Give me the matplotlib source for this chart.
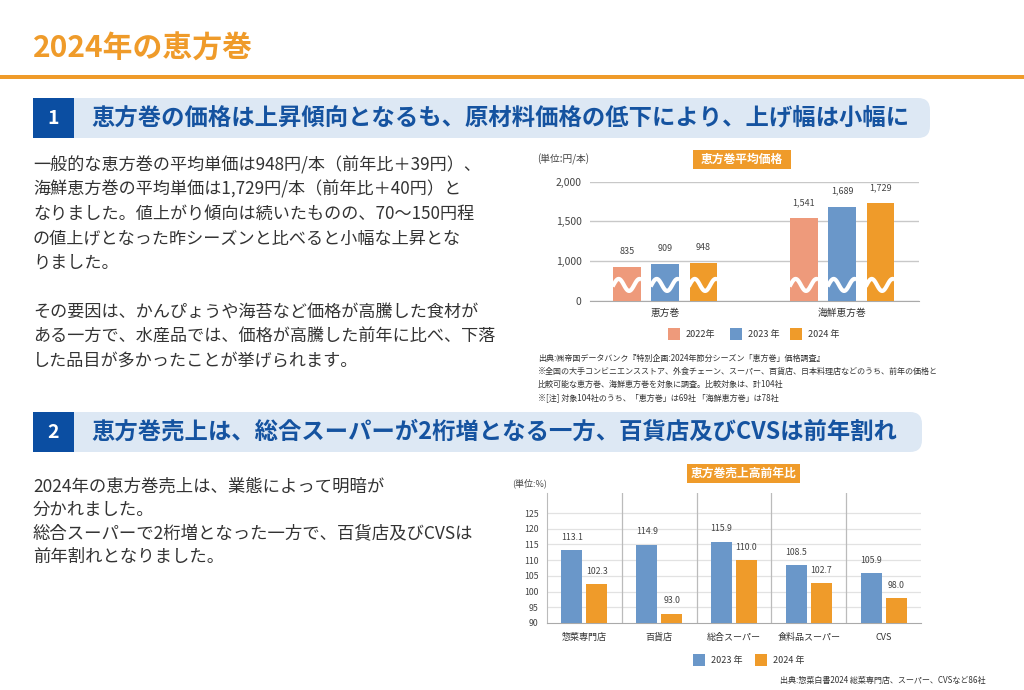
import matplotlib
matplotlib.use("Agg")
import matplotlib.pyplot as plt
import numpy as np
from matplotlib.patches import Rectangle, FancyBboxPatch

plt.rcParams["font.family"] = ["Noto Sans CJK JP", "DejaVu Sans"]

# ---- data ----
price_groups = ["恵方巻", "海鮮恵方巻"]
price_years = ["2022年", "2023 年", "2024 年"]
price_2022 = [835, 1541]
price_2023 = [909, 1689]
price_2024 = [948, 1729]
price_ticks = [0, 1000, 1500, 2000]

sales_groups = ["惣菜専門店", "百貨店", "総合スーパー", "食料品スーパー", "CVS"]
sales_years = ["2023 年", "2024 年"]
sales_2023 = [113.1, 114.9, 115.9, 108.5, 105.9]
sales_2024 = [102.3, 93.0, 110.0, 102.7, 98.0]
sales_ticks = [90, 95, 100, 105, 110, 115, 120, 125]

ORANGE = "#EF9B2A"
BLUE = "#6A97C9"
SALMON = "#EE9A7B"
NAVY = "#0B4EA2"
HEAD_TXT = "#1553A0"
BAND = "#DDE8F4"
TXT = "#333333"

W, H = 1024, 690
fig = plt.figure(figsize=(W / 100, H / 100), dpi=100)

# overlay in pixel coordinates
ov = fig.add_axes([0, 0, 1, 1])
ov.set_xlim(0, W)
ov.set_ylim(H, 0)
ov.axis("off")

ov.text(33, 49, "2024年の恵方巻", fontsize=21.5, fontweight="bold",
        color=ORANGE, va="center", ha="left")
ov.add_patch(Rectangle((0, 75), W, 4, color=ORANGE, lw=0))


def section(y0, num, title, right):
    ov.add_patch(FancyBboxPatch((60, y0), right - 60, 40,
                                boxstyle="round,pad=0,rounding_size=12",
                                fc=BAND, ec="none"))
    ov.add_patch(Rectangle((33, y0), 41, 40, fc=NAVY, ec="none"))
    ov.text(53.5, y0 + 20, num, color="white", fontsize=14,
            fontweight="bold", ha="center", va="center")
    ov.text(91, y0 + 20, title, color=HEAD_TXT, fontsize=16.8,
            fontweight="bold", ha="left", va="center")


section(98, "1", "恵方巻の価格は上昇傾向となるも、原材料価格の低下により、上げ幅は小幅に", 930)
section(412, "2", "恵方巻売上は、総合スーパーが2桁増となる一方、百貨店及びCVSは前年割れ", 922)

body1 = [
    "一般的な恵方巻の平均単価は948円/本（前年比＋39円）、",
    "海鮮恵方巻の平均単価は1,729円/本（前年比＋40円）と",
    "なりました。値上がり傾向は続いたものの、70〜150円程",
    "の値上げとなった昨シーズンと比べると小幅な上昇とな",
    "りました。",
    "",
    "その要因は、かんぴょうや海苔など価格が高騰した食材が",
    "ある一方で、水産品では、価格が高騰した前年に比べ、下落",
    "した品目が多かったことが挙げられます。",
]
for i, line in enumerate(body1):
    ov.text(33, 165 + i * 24.5, line, fontsize=12.3, color=TXT,
            ha="left", va="center")

body2 = [
    "2024年の恵方巻売上は、業態によって明暗が",
    "分かれました。",
    "総合スーパーで2桁増となった一方で、百貨店及びCVSは",
    "前年割れとなりました。",
]
for i, line in enumerate(body2):
    ov.text(33, 487 + i * 23.3, line, fontsize=12.5, color=TXT,
            ha="left", va="center")

# ---- chart 1 : average price ----
ov.text(537, 159, "(単位:円/本)", fontsize=7, color="#444444", va="center")
ov.add_patch(Rectangle((693, 150), 98, 19, fc=ORANGE, ec="none"))
ov.text(742, 159.5, "恵方巻平均価格", fontsize=8.5, color="white",
        fontweight="bold", ha="center", va="center")

notes1 = [
    "出典:㈱帝国データバンク『特別企画:2024年節分シーズン「恵方巻」価格調査』",
    "※全国の大手コンビニエンスストア、外食チェーン、スーパー、百貨店、日本料理店などのうち、前年の価格と",
    "比較可能な恵方巻、海鮮恵方巻を対象に調査。比較対象は、計104社",
    "※[注] 対象104社のうち、「恵方巻」は69社 「海鮮恵方巻」は78社",
]
for i, line in enumerate(notes1):
    ov.text(538, 358 + i * 13.3, line, fontsize=5.8, color="#333333",
            va="center")


def fwd(v):
    v = np.asarray(v, dtype=float)
    return np.where(v < 1000, v * 0.51, 510 + (v - 1000))


def inv(u):
    u = np.asarray(u, dtype=float)
    return np.where(u < 510, u / 0.51, 1000 + (u - 510))


ax1 = fig.add_axes([590 / W, 1 - 301 / H, 329 / W, 119 / H])
ax1.set_yscale("function", functions=(fwd, inv))
ax1.set_ylim(0, 2000)
ax1.set_xlim(-0.424, 1.435)
x = np.arange(len(price_groups))
off, bw = 0.215, 0.153
series1 = [(price_2022, SALMON), (price_2023, BLUE), (price_2024, ORANGE)]
for k, (vals, col) in enumerate(series1):
    xs = x + (k - 1) * off
    bars = ax1.bar(xs, vals, width=bw, color=col, zorder=3)
    for b, v in zip(bars, vals):
        ax1.annotate(f"{v:,}", (b.get_x() + b.get_width() / 2, v),
                     xytext=(0, 8), textcoords="offset points",
                     ha="center", va="bottom", fontsize=6.5,
                     color="#444444")
        # break mark across each bar
        wx = np.linspace(b.get_x() - 0.005, b.get_x() + b.get_width() + 0.005, 40)
        wy = 400 + 150 * np.sin((wx - b.get_x()) / b.get_width() * 2 * np.pi * 1.3)
        ax1.plot(wx, wy, color="white", lw=3, zorder=4, solid_capstyle="butt")
ax1.set_yticks(price_ticks)
ax1.set_yticklabels([f"{t:,}" for t in price_ticks])
ax1.tick_params(axis="y", length=0, labelsize=7.5, colors="#444444", pad=6)
ax1.set_xticks(x)
ax1.set_xticklabels(price_groups)
ax1.tick_params(axis="x", length=0, labelsize=7, colors="#333333", pad=5)
ax1.grid(axis="y", color="#C8C8C8", lw=1, zorder=0)
for s in ["top", "right", "left"]:
    ax1.spines[s].set_visible(False)
ax1.spines["bottom"].set_color("#AAAAAA")

for sx, lab, col in [(668, price_years[0], SALMON),
                     (730, price_years[1], BLUE),
                     (790, price_years[2], ORANGE)]:
    ov.add_patch(Rectangle((sx, 328), 12, 12, fc=col, ec="none"))
    ov.text(sx + 18, 334, lab, fontsize=6.5, color="#333333", va="center")

# ---- chart 2 : sales yoy ----
ov.text(512, 483, "(単位:%)", fontsize=6.5, color="#444444", va="center")
ov.add_patch(Rectangle((687, 464), 113, 19, fc=ORANGE, ec="none"))
ov.text(743.5, 473.5, "恵方巻売上高前年比", fontsize=8.5, color="white",
        fontweight="bold", ha="center", va="center")

ax2 = fig.add_axes([547 / W, 1 - 623 / H, 374 / W, 130 / H])
xs2 = np.arange(len(sales_groups))
ax2.set_xlim(-0.5, len(sales_groups) - 0.5)
ax2.set_ylim(90, 131.4)
bw2, off2 = 0.28, 0.167
b23 = ax2.bar(xs2 - off2, np.array(sales_2023) - 90, bottom=90, width=bw2,
              color=BLUE, zorder=3)
b24 = ax2.bar(xs2 + off2, np.array(sales_2024) - 90, bottom=90, width=bw2,
              color=ORANGE, zorder=3)
for bars, vals in [(b23, sales_2023), (b24, sales_2024)]:
    for b, v in zip(bars, vals):
        ax2.annotate(f"{v:.1f}", (b.get_x() + b.get_width() / 2, v),
                     xytext=(0, 6), textcoords="offset points",
                     ha="center", va="bottom", fontsize=6.3,
                     color="#444444")
ax2.set_yticks(sales_ticks)
ax2.tick_params(axis="y", length=0, labelsize=6.3, colors="#444444", pad=6)
ax2.set_xticks(xs2)
ax2.set_xticklabels(sales_groups)
ax2.tick_params(axis="x", length=0, labelsize=6.5, colors="#333333", pad=7)
for t in sales_ticks[1:]:
    ax2.axhline(t, color="#E2E2E2", lw=0.9, zorder=0)
for sep in xs2[1:] - 0.5:
    ax2.axvline(sep, color="#BBBBBB", lw=0.9, zorder=1)
for s in ["top", "right"]:
    ax2.spines[s].set_visible(False)
ax2.spines["left"].set_color("#BBBBBB")
ax2.spines["bottom"].set_color("#AAAAAA")

for sx, lab, col in [(693, sales_years[0], BLUE), (755, sales_years[1], ORANGE)]:
    ov.add_patch(Rectangle((sx, 654), 12, 12, fc=col, ec="none"))
    ov.text(sx + 18, 660, lab, fontsize=6.5, color="#333333", va="center")

ov.text(985, 680, "出典:惣菜白書2024 総菜専門店、スーパー、CVSなど86社",
        fontsize=5.8, color="#333333", ha="right", va="center")

fig.savefig("out.png", dpi=100)
